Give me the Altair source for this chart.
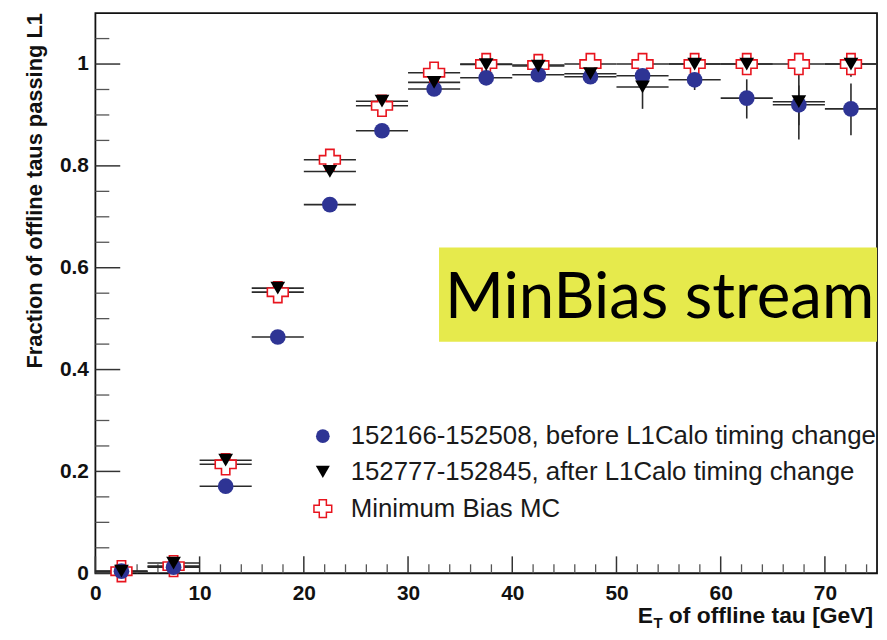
import altair as alt
import pandas as pd

# ---- data ----
bin_edges = [0, 5, 10, 15, 20, 25, 30, 35, 40, 45, 50, 55, 60, 65, 70, 75]

before_y  = [0.004, 0.012, 0.171, 0.464, 0.724, 0.869, 0.951, 0.973, 0.979, 0.975, 0.977, 0.969, 0.933, 0.920, 0.912]
before_lo = [0.000, 0.006, 0.165, 0.456, 0.717, 0.863, 0.945, 0.966, 0.972, 0.966, 0.965, 0.949, 0.893, 0.880, 0.860]
before_hi = [0.010, 0.018, 0.177, 0.472, 0.731, 0.875, 0.957, 0.980, 0.986, 0.984, 0.989, 0.978, 0.970, 0.958, 0.962]

after_y  = [0.004, 0.020, 0.222, 0.560, 0.789, 0.927, 0.964, 0.999, 0.996, 0.981, 0.955, 1.000, 1.000, 0.926, 1.000]
after_lo = [0.000, 0.012, 0.212, 0.550, 0.780, 0.918, 0.955, 0.990, 0.985, 0.965, 0.912, 0.985, 0.980, 0.852, 0.975]
after_hi = [0.010, 0.028, 0.232, 0.570, 0.798, 0.936, 0.973, 1.000, 1.000, 0.993, 0.978, 1.000, 1.000, 0.998, 1.000]

mc_y  = [0.004, 0.014, 0.214, 0.552, 0.812, 0.918, 0.983, 1.000, 0.998, 1.000, 1.000, 1.000, 1.000, 1.000, 1.000]
mc_lo = [0.000, 0.010, 0.208, 0.545, 0.806, 0.913, 0.979, 0.997, 0.995, 0.997, 0.997, 0.997, 0.997, 0.997, 0.997]
mc_hi = [0.008, 0.018, 0.220, 0.559, 0.818, 0.923, 0.987, 1.000, 1.000, 1.000, 1.000, 1.000, 1.000, 1.000, 1.000]

series_labels = ["152166-152508, before L1Calo timing change",
                 "152777-152845, after L1Calo timing change",
                 "Minimum Bias MC"]

x_major = [0, 10, 20, 30, 40, 50, 60, 70]
x_minor = [2, 4, 6, 8, 12, 14, 16, 18, 22, 24, 26, 28, 32, 34, 36, 38, 42, 44, 46, 48,
           52, 54, 56, 58, 62, 64, 66, 68, 72, 74]
y_major = [0, 0.2, 0.4, 0.6, 0.8, 1.0]
y_minor = [0.05, 0.1, 0.15, 0.25, 0.3, 0.35, 0.45, 0.5, 0.55, 0.65, 0.7, 0.75,
           0.85, 0.9, 0.95, 1.05]

annotation = "MinBias stream"
x_title_main = "E"
x_title_sub = "T"
x_title_rest = "of offline tau [GeV]"
y_title = "Fraction of offline taus passing L1"

# ---- tables ----
def series_df(y, lo, hi):
    rows = []
    for i in range(len(y)):
        a, b = bin_edges[i], bin_edges[i + 1]
        rows.append({"x": (a + b) / 2, "xl": a, "xh": b, "y": y[i], "lo": lo[i], "hi": hi[i]})
    return pd.DataFrame(rows)

d_before = series_df(before_y, before_lo, before_hi)
d_after = series_df(after_y, after_lo, after_hi)
d_mc = series_df(mc_y, mc_lo, mc_hi)

W, H = 787, 564
xs = alt.Scale(domain=[0, 75], nice=False, zero=False)
ys = alt.Scale(domain=[0, 1.1], nice=False, zero=False)

FONT = "Liberation Sans"
BLUE = "#2E3494"
ERR = "#2a2a2a"

def X(field="x"):
    return alt.X(f"{field}:Q", scale=xs, title=None)

def Y(field="y"):
    return alt.Y(f"{field}:Q", scale=ys, title=None)

dummy = pd.DataFrame({"a": [0]})

# axes (labels only; ticks drawn inward as rules)
axes = alt.Chart(dummy).mark_point(opacity=0).encode(
    x=alt.X("a:Q", scale=xs, title=None, axis=alt.Axis(values=x_major, labelFlush=False)),
    y=alt.Y("a:Q", scale=ys, title=None, axis=alt.Axis(values=y_major, format="~g", labelFlush=False)),
)

# inward ticks
ytick_major = alt.Chart(pd.DataFrame({"v": y_major})).mark_rule(color="#333", strokeWidth=1.5).encode(
    y=alt.Y("v:Q", scale=ys, title=None), x=alt.value(0), x2=alt.value(25))
ytick_minor = alt.Chart(pd.DataFrame({"v": y_minor})).mark_rule(color="#555", strokeWidth=1.3).encode(
    y=alt.Y("v:Q", scale=ys, title=None), x=alt.value(0), x2=alt.value(14))
xtick_major = alt.Chart(pd.DataFrame({"v": x_major})).mark_rule(color="#333", strokeWidth=1.5).encode(
    x=alt.X("v:Q", scale=xs, title=None), y=alt.value(H), y2=alt.value(H - 17))
xtick_minor = alt.Chart(pd.DataFrame({"v": x_minor})).mark_rule(color="#555", strokeWidth=1.3).encode(
    x=alt.X("v:Q", scale=xs, title=None), y=alt.value(H), y2=alt.value(H - 9))

# annotation box
box = alt.Chart(dummy).mark_rect(color="#E6EA4C").encode(
    x=alt.value(346), x2=alt.value(W), y=alt.value(236), y2=alt.value(331))
box_text = alt.Chart(dummy).mark_text(text=annotation, font="Lato", fontSize=64, align="left",
                                       baseline="alphabetic", color="#000").encode(
    x=alt.value(352), y=alt.value(307))

# error bars
def errbars(d):
    h = alt.Chart(d).mark_rule(color=ERR, strokeWidth=1.6).encode(x=X("xl"), x2="xh:Q", y=Y("y"))
    v = alt.Chart(d).mark_rule(color=ERR, strokeWidth=1.6).encode(x=X("x"), y=Y("lo"), y2="hi:Q")
    return h + v

pts_mc = alt.Chart(d_mc).mark_point(shape="cross", size=440, filled=False, fill="white",
                                    fillOpacity=1, stroke="#E8141E", strokeWidth=1.6, opacity=1).encode(
    x=X(), y=Y())
pts_before = alt.Chart(d_before).mark_point(shape="circle", size=250, filled=True, color=BLUE,
                                            opacity=1).encode(x=X(), y=Y())
pts_after = alt.Chart(d_after).mark_point(shape="triangle-down", size=220, filled=True,
                                          color="#000", opacity=1).encode(x=X(), y=Y())

# legend (drawn manually)
leg_x, leg_tx = 229, 257
leg_rows = [426, 462, 499]
leg1 = alt.Chart(dummy).mark_point(shape="circle", size=190, filled=True, color=BLUE, opacity=1).encode(
    x=alt.value(leg_x), y=alt.value(leg_rows[0]))
leg2 = alt.Chart(dummy).mark_point(shape="triangle-down", size=200, filled=True, color="#000", opacity=1).encode(
    x=alt.value(leg_x), y=alt.value(leg_rows[1]))
leg3 = alt.Chart(dummy).mark_point(shape="cross", size=320, filled=False, fill="white", fillOpacity=1,
                                   stroke="#E8141E", strokeWidth=1.5, opacity=1).encode(
    x=alt.value(leg_x), y=alt.value(leg_rows[2]))
leg_texts = [alt.Chart(dummy).mark_text(text=series_labels[i], font=FONT, fontSize=26, align="left",
                                        baseline="middle", color="#1a1a1a").encode(
    x=alt.value(leg_tx), y=alt.value(leg_rows[i])) for i in range(3)]

# axis titles
yt = alt.Chart(dummy).mark_text(text=y_title, font=FONT, fontSize=22, fontWeight="bold", angle=270,
                                align="right", baseline="middle", color="#111").encode(
    x=alt.value(-61), y=alt.value(0))
xt_e = alt.Chart(dummy).mark_text(text=x_title_main, font=FONT, fontSize=23, fontWeight="bold",
                                  align="left", baseline="alphabetic", color="#111").encode(
    x=alt.value(546), y=alt.value(614))
xt_t = alt.Chart(dummy).mark_text(text=x_title_sub, font=FONT, fontSize=15, fontWeight="bold",
                                  align="left", baseline="alphabetic", color="#111").encode(
    x=alt.value(562), y=alt.value(619))
xt_r = alt.Chart(dummy).mark_text(text=x_title_rest, font=FONT, fontSize=23, fontWeight="bold",
                                  align="right", baseline="alphabetic", color="#111").encode(
    x=alt.value(W - 4), y=alt.value(614))

chart = alt.layer(
    axes, box, box_text,
    ytick_minor, ytick_major, xtick_minor, xtick_major,
    errbars(d_before), errbars(d_after), errbars(d_mc),
    pts_mc, pts_before, pts_after,
    leg1, leg2, leg3, *leg_texts,
    yt, xt_e, xt_t, xt_r,
).properties(
    width=W, height=H,
    autosize=alt.AutoSizeParams(type="none"),
    padding={"left": 88, "top": 3, "right": 2, "bottom": 57},
    background="white",
).configure_view(
    stroke="#111", strokeWidth=1.8
).configure_axis(
    labelFont=FONT, labelFontSize=21, labelFontWeight="bold", labelColor="#111",
    ticks=False, domain=False, grid=False,
).configure_axisX(labelPadding=9).configure_axisY(labelPadding=7)

chart.save("out.html", embed_options={"renderer": "svg", "actions": False})
